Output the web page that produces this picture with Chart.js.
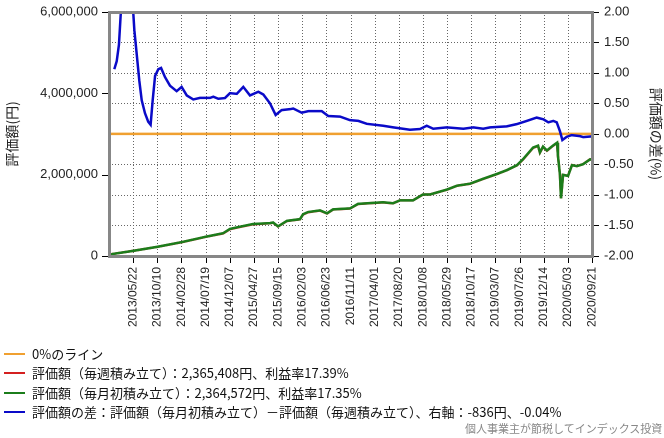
<!DOCTYPE html>
<html>
<head>
<meta charset="utf-8">
<script src="https://cdn.jsdelivr.net/npm/chart.js@4"></script>
<style>
  html, body { margin: 0; padding: 0; background: #fff; }
  #wrap { position: relative; width: 664px; height: 438px; overflow: hidden; }
  #c { position: absolute; left: 0; top: 0; width: 664px; height: 438px; }
  .lg { position: absolute; left: 4px; height: 19px; font: 13px "Noto Sans CJK JP", sans-serif; color: #111; white-space: nowrap; line-height: 19px; }
  .lg i { display: inline-block; width: 21px; height: 2px; vertical-align: middle; margin-right: 7px; position: relative; top: -1px; }
  #wm { position: absolute; left: 465px; top: 420px; font: 11px "Noto Sans CJK JP", sans-serif; color: #888; white-space: nowrap; }
</style>
</head>
<body>
<div id="wrap">
  <canvas id="c" width="664" height="438"></canvas>
  <div class="lg" style="top:344px"><i style="background:#f0a030"></i>0%のライン</div>
  <div class="lg" style="top:363px"><i style="background:#d42020"></i>評価額（毎週積み立て）：2,365,408円、利益率17.39%</div>
  <div class="lg" style="top:383px"><i style="background:#1b7d1b"></i>評価額（毎月初積み立て）：2,364,572円、利益率17.35%</div>
  <div class="lg" style="top:402px"><i style="background:#0a0ac8"></i>評価額の差：評価額（毎月初積み立て）－評価額（毎週積み立て）、右軸：-836円、-0.04%</div>
  <div id="wm">個人事業主が節税してインデックス投資</div>
</div>
<script>
// ---- data ----
const startDate = '2013/01/01';
const endDay = 2820;
const tickLabels = ['2013/05/22','2013/10/10','2014/02/28','2014/07/19','2014/12/07','2015/04/27','2015/09/15','2016/02/03','2016/06/23','2016/11/11','2017/04/01','2017/08/20','2018/01/08','2018/05/29','2018/10/17','2019/03/07','2019/07/26','2019/12/14','2020/05/03','2020/09/21'];

// elapsed days since startDate
const valueDays = [0,18,140,280,426,514,572,666,706,765,841,940,958,987,1039,1115,1133,1162,1232,1273,1308,1407,1454,1600,1658,1699,1775,1833,1874,1973,2032,2108,2184,2265,2324,2382,2417,2476,2505,2516,2534,2557,2592,2616,2621,2633,2639,2651,2680,2703,2732,2768,2809,2820];
const monthlyValues = [10000,48000,127000,224000,343000,425000,480000,559000,665000,720000,785000,808000,823000,727000,864000,905000,1025000,1080000,1121000,1049000,1145000,1169000,1280000,1320000,1296000,1368000,1368000,1512000,1512000,1632000,1728000,1776000,1896000,2016000,2112000,2232000,2376000,2664000,2712000,2544000,2688000,2592000,2712000,2784000,2472000,1992000,1416000,1992000,1968000,2232000,2208000,2256000,2376000,2364572];
const weeklyValues = [10000,48000,126000,223000,341000,422000,477000,555000,660000,715000,780000,804000,819000,724000,860000,902000,1021000,1076000,1117000,1046000,1142000,1166000,1277000,1318000,1294000,1366000,1367000,1511000,1511000,1630000,1727000,1775000,1894000,2014000,2110000,2229000,2372000,2658000,2705000,2539000,2683000,2587000,2707000,2779000,2468000,1991000,1418000,1993000,1969000,2233000,2209000,2257000,2377000,2365408];

const diffDays = [31,45,58,68,88,110,128,142,148,162,177,191,210,229,243,255,269,288,304,327,356,395,424,454,492,531,590,609,638,677,706,746,784,823,872,901,940,973,1008,1057,1076,1125,1164,1242,1280,1349,1407,1456,1505,1601,1660,1757,1816,1855,1893,1972,2069,2127,2185,2225,2322,2380,2439,2497,2536,2565,2594,2614,2633,2647,2672,2701,2750,2769,2820];
const diffPercent = [1.06,1.19,1.46,1.94,2.7,2.9,2.4,1.97,1.70,1.30,0.87,0.55,0.34,0.20,0.15,0.55,0.95,1.06,1.08,0.93,0.79,0.70,0.77,0.63,0.565,0.59,0.59,0.61,0.576,0.587,0.667,0.656,0.77,0.63,0.69,0.645,0.50,0.31,0.39,0.405,0.416,0.347,0.373,0.373,0.293,0.283,0.225,0.213,0.165,0.133,0.107,0.069,0.08,0.133,0.085,0.107,0.085,0.107,0.085,0.107,0.123,0.16,0.213,0.267,0.24,0.19,0.213,0.19,0.043,-0.10,-0.048,-0.02,-0.037,-0.053,-0.04];

const zeroLineDays = [0, 2820];
const zeroLineValues = [0, 0];
const leftTicks = [0, 2000000, 4000000, 6000000];
const rightTicks = [-2, -1.5, -1, -0.5, 0, 0.5, 1, 1.5, 2];

// ---- helpers ----
function dayOf(s) {
  const p = s.split('/').map(Number), q = startDate.split('/').map(Number);
  return Math.round((Date.UTC(p[0], p[1]-1, p[2]) - Date.UTC(q[0], q[1]-1, q[2])) / 86400000);
}
const tickDays = tickLabels.map(dayOf);
const pts = (xs, ys) => xs.map((x, i) => ({x, y: ys[i]}));

const numFont = {family: '"Liberation Sans", Arial, sans-serif', size: 13};
const jpFont = {family: '"Noto Sans CJK JP", sans-serif', size: 14};

const gridPlugin = {
  id: 'gridPlugin',
  beforeDatasetsDraw(chart) {
    const a = chart.chartArea, ctx = chart.ctx;
    const sx = chart.scales.x, sy1 = chart.scales.y1;
    const L = Math.round(a.left), R = Math.round(a.right), T = Math.round(a.top), B = Math.round(a.bottom);
    ctx.save();
    ctx.fillStyle = '#666666';
    tickDays.forEach(v => { const px = Math.round(sx.getPixelForValue(v)); for (let y = T; y < B; y += 3) ctx.fillRect(px, y, 1, 1); });
    rightTicks.forEach(v => { const py = Math.round(sy1.getPixelForValue(v)); for (let x = L; x < R; x += 3) ctx.fillRect(x, py, 1, 1); });
    ctx.restore();
  },
  afterDraw(chart) {
    const a = chart.chartArea, ctx = chart.ctx;
    const sx = chart.scales.x, sy = chart.scales.y, sy1 = chart.scales.y1;
    const L = Math.round(a.left), R = Math.round(a.right), T = Math.round(a.top), B = Math.round(a.bottom);
    ctx.save();
    ctx.fillStyle = '#000';
    tickDays.forEach(v => ctx.fillRect(Math.round(sx.getPixelForValue(v)), B, 1, 7));
    rightTicks.forEach(v => ctx.fillRect(R, Math.round(sy1.getPixelForValue(v)), 7, 1));
    leftTicks.forEach(v => ctx.fillRect(L - 7, Math.round(sy.getPixelForValue(v)), 7, 1));
    ctx.fillStyle = '#878787';
    ctx.fillRect(L - 1, T - 1, 3, B - T + 3);
    ctx.fillRect(R - 1, T - 1, 3, B - T + 3);
    ctx.fillRect(L - 1, T - 1, R - L + 3, 3);
    ctx.fillRect(L - 1, B - 1, R - L + 3, 3);
    ctx.restore();
  }
};

new Chart(document.getElementById('c'), {
  type: 'line',
  data: {
    datasets: [
      {label: '0%のライン', data: pts(zeroLineDays, zeroLineValues), yAxisID: 'y1', borderColor: '#f0a030', borderWidth: 2.5, order: 4},
      {label: '評価額（毎週積み立て）', data: pts(valueDays, weeklyValues), yAxisID: 'y', borderColor: '#d42020', borderWidth: 2.5, order: 3},
      {label: '評価額（毎月初積み立て）', data: pts(valueDays, monthlyValues), yAxisID: 'y', borderColor: '#1b7d1b', borderWidth: 2.5, order: 2},
      {label: '評価額の差', data: pts(diffDays, diffPercent), yAxisID: 'y1', borderColor: '#0a0ac8', borderWidth: 2.5, order: 1}
    ]
  },
  options: {
    responsive: false,
    devicePixelRatio: 2,
    animation: false,
    events: [],
    elements: {point: {radius: 0}, line: {tension: 0}},
    layout: {padding: {top: 6, left: 0, right: 0, bottom: 0}},
    plugins: {legend: {display: false}, tooltip: {enabled: false}},
    scales: {
      x: {
        type: 'linear', min: 0, max: endDay,
        afterBuildTicks: s => { s.ticks = tickDays.map(v => ({value: v})); },
        afterFit: s => { s.height = 182; },
        ticks: {
          autoSkip: false, minRotation: 90, maxRotation: 90, padding: 3,
          color: '#222', font: {family: '"Liberation Sans", Arial, sans-serif', size: 12},
          callback: v => { const i = tickDays.indexOf(v); return i >= 0 ? tickLabels[i] : ''; }
        },
        grid: {display: false},
        border: {display: false}
      },
      y: {
        position: 'left', min: 0, max: 6000000,
        afterFit: s => { s.width = 109; },
        afterBuildTicks: s => { s.ticks = leftTicks.map(v => ({value: v})); },
        ticks: {padding: 3, color: '#222', font: numFont, callback: v => v.toLocaleString('en-US')},
        grid: {display: false},
        border: {display: false},
        title: {display: true, text: '評価額(円)', font: jpFont, color: '#222', padding: {top: 4, bottom: 0}}
      },
      y1: {
        position: 'right', min: -2, max: 2,
        afterFit: s => { s.width = 72; },
        afterBuildTicks: s => { s.ticks = rightTicks.map(v => ({value: v})); },
        ticks: {padding: 4, color: '#222', font: numFont, callback: v => v.toFixed(2)},
        grid: {display: false},
        border: {display: false},
        title: {display: true, text: '評価額の差(%)', font: jpFont, color: '#222', padding: {top: 0, bottom: 0}}
      }
    }
  },
  plugins: [gridPlugin]
});
</script>
</body>
</html>
